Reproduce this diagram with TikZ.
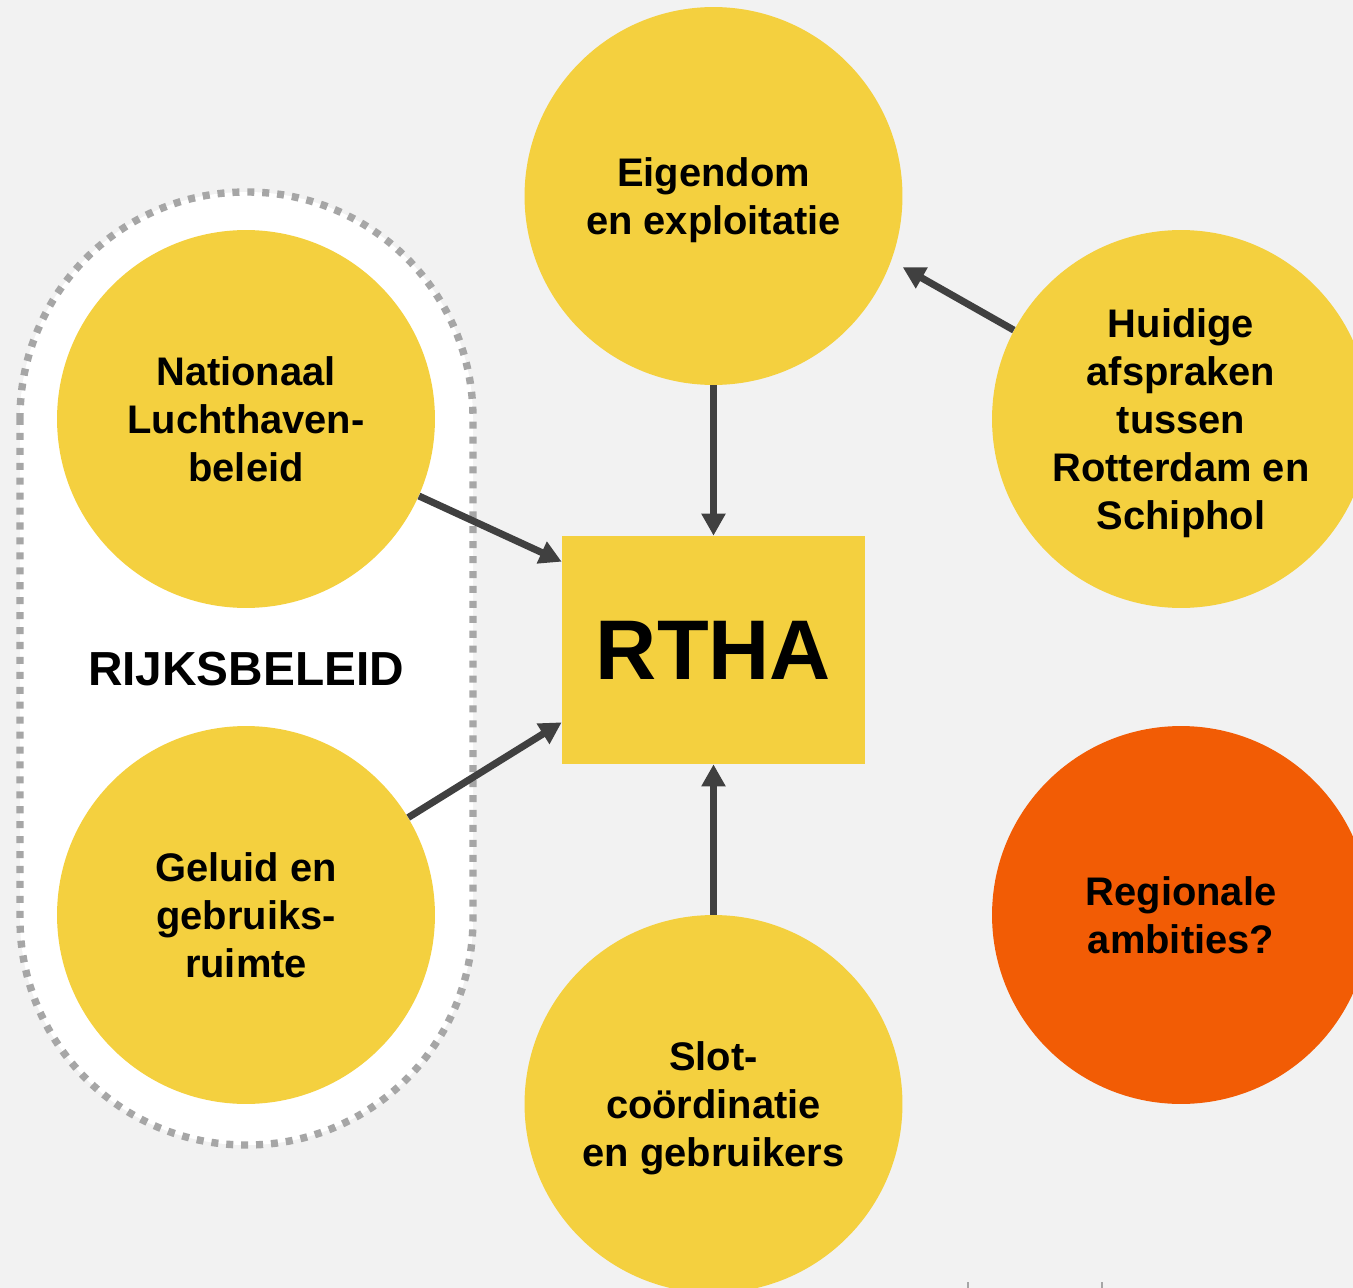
\documentclass[tikz,border=0pt]{standalone}
\usepackage{fontspec}
\setmainfont{Liberation Sans}
\usetikzlibrary{arrows.meta,calc}
\definecolor{bgc}{HTML}{F2F2F2}
\definecolor{gold}{HTML}{F4D03F}
\definecolor{orng}{HTML}{F25C05}
\definecolor{arrowgray}{HTML}{404040}
\definecolor{dashgray}{HTML}{A6A6A6}
\begin{document}
\begin{tikzpicture}[x=0.02cm,y=-0.02cm,
  bubble/.style={circle,fill=gold,minimum size=7.56cm,inner sep=0pt,align=center,text depth=0pt,
    font=\fontsize{22.7pt}{27.2pt}\selectfont\bfseries},
  hotbubble/.style={bubble,fill=orng},
  centerbox/.style={rectangle,fill=gold,minimum width=6.06cm,minimum height=4.56cm,inner sep=0pt,
    font=\fontsize{48.2pt}{56pt}\selectfont\bfseries},
  grouplabel/.style={inner sep=0pt,font=\fontsize{27.2pt}{32pt}\selectfont\bfseries},
  groupborder/.style={draw=dashgray,fill=white,line width=4.2pt,dash pattern=on 4pt off 4.5pt,rounded corners=4.52cm},
  arr/.style={draw=arrowgray,line width=4pt,-{Triangle[length=12.5pt,width=13pt]}},
  tick/.style={draw=dashgray,line width=1.2pt}
]
\clip (0,0) rectangle (1353,1288);
\useasboundingbox (0,0) rectangle (1353,1288);
\fill[bgc] (0,0) rectangle (1353,1288);

% group outline
\path[groupborder] (20,192) rectangle (473,1145);

% nodes
\node[bubble] (eig) at (713.5,196) {Eigendom\\en exploitatie};
\node[bubble] (nat) at (246,419) {Nationaal\\Luchthaven-\\beleid};
\node[bubble] (gel) at (246,915) {Geluid en\\gebruiks-\\ruimte};
\node[bubble] (hui) at (1181,419) {Huidige\\afspraken\\tussen\\Rotterdam en\\Schiphol};
\node[bubble] (slot) at (713.5,1104) {Slot-\\coördinatie\\en gebruikers};
\node[hotbubble] (reg) at (1181,915) {Regionale\\ambities?};
\node[centerbox] (rtha) at (713.5,650) {RTHA};
\node[grouplabel] (rijk) at (246,669.5) {RIJKSBELEID};

% connectors
\draw[arr] (eig.south) -- (rtha.north);
\draw[arr] (slot.north) -- (rtha.south);
\draw[arr] (nat.-24) -- ($(rtha.north west)+(0,26)$);
\draw[arr] (gel.31) -- ($(rtha.south west)+(0,-42)$);
\draw[arr,shorten >=7.4pt] (hui.152) -- (eig.-20);

% small marks at the bottom edge
\draw[tick] (968,1282) -- (968,1288);
\draw[tick] (1102,1282) -- (1102,1288);
\end{tikzpicture}
\end{document}
